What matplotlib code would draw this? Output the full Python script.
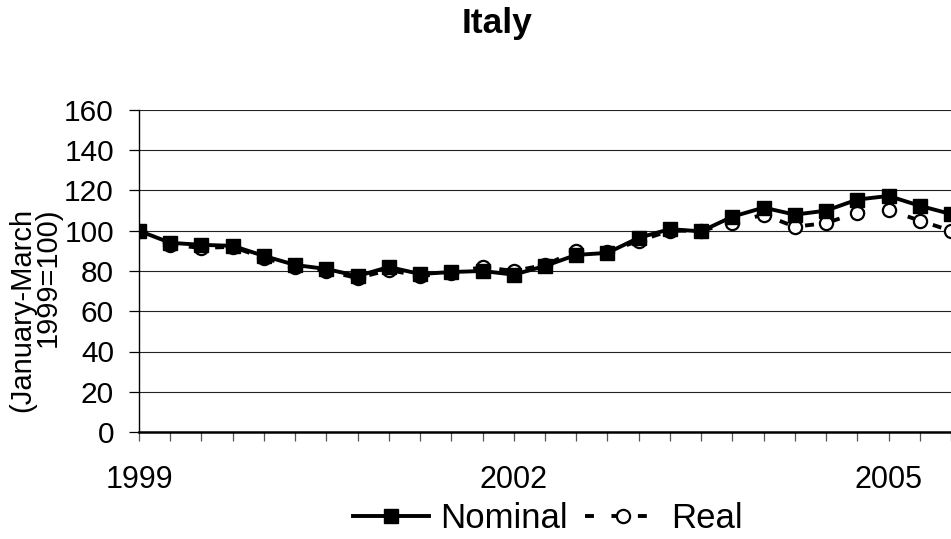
import matplotlib
matplotlib.use("Agg")
import matplotlib.pyplot as plt
import numpy as np

plt.rcParams['font.family'] = ['Liberation Sans', 'DejaVu Sans']

# Quarterly index, January-March 1999 = 100
quarters = np.arange(27)          # 1999 Q1 ... 2005 Q3
nominal = [100, 94, 93, 92.5, 87.5, 83, 81, 77.5, 82, 78.5, 79.5, 80, 78.2,
           82.5, 88, 89, 96.5, 100.8, 99.7, 107, 111.5, 108, 110, 115.5,
           117.3, 112.4, 108.3]
real = [100, 93, 91.5, 92, 86.5, 82, 80, 76.5, 80.5, 77.5, 79, 82, 80,
        83, 90, 89.5, 95, 100, 100, 104, 108, 102, 103.8, 109, 110.4,
        105, 100]
year_ticks = [0, 12, 24]
year_labels = ["1999", "2002", "2005"]
y_ticks = [0, 20, 40, 60, 80, 100, 120, 140, 160]

W, H = 951, 539
fig = plt.figure(figsize=(W / 100, H / 100), dpi=100)
left, right, bottom, top = 139, 951, 432, 110
ax = fig.add_axes([left / W, 1 - bottom / H, (right - left) / W, (bottom - top) / H])

ax.plot(quarters, real, color="black", lw=2.8, dashes=(2.3, 4.5),
        marker="o", markersize=9.5, markerfacecolor="white",
        markeredgecolor="black", markeredgewidth=1.6, label="Real", zorder=3)
ax.plot(quarters, nominal, color="black", lw=2.8, marker="s", markersize=10,
        markerfacecolor="black", markeredgecolor="black", label="Nominal",
        zorder=4)

ax.set_xlim(0, (right - left) / 31.37)
ax.set_ylim(0, 160)
ax.set_yticks(y_ticks)
ax.set_xticks(year_ticks)
ax.set_xticklabels(year_labels)
ax.set_xticks(quarters, minor=True)

ax.grid(axis="y", color="#222222", lw=0.8)
ax.set_axisbelow(True)
for s in ("top", "right"):
    ax.spines[s].set_visible(False)
ax.spines["left"].set_linewidth(1.0)
ax.spines["bottom"].set_linewidth(1.8)

ax.tick_params(axis="y", direction="out", length=7, width=0.9, pad=11,
               labelsize=21.5)
ax.tick_params(axis="x", which="both", direction="out", length=6.5,
               width=0.9, color="#555555")
ax.tick_params(axis="x", which="major", pad=17.5, labelsize=22)

fig.text(35 / W, 1 - 310 / H, "(January-March\n1999=100)", rotation=90,
         ha="center", va="center", multialignment="right", fontsize=21,
         linespacing=0.85)

fig.text(497 / W, 1 - 33 / H, "Italy", ha="center", va="baseline",
         fontsize=25.5, fontweight="bold")

handles, labels = ax.get_legend_handles_labels()
fig.legend(handles[::-1], labels[::-1], loc="center left",
           bbox_to_anchor=(353 / W, 1 - 519 / H), ncol=2, frameon=False,
           fontsize=25, borderpad=0, borderaxespad=0, handlelength=2.2,
           handletextpad=0.3, columnspacing=0.5)

fig.savefig("out.png", dpi=100)
